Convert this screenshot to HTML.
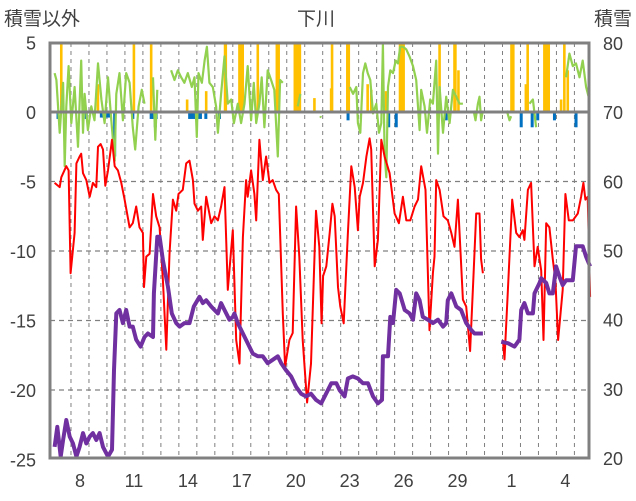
<!DOCTYPE html>
<html><head><meta charset="utf-8"><style>
body{margin:0;background:#fff;}
svg{display:block;font-family:"Liberation Sans","Noto Sans CJK JP",sans-serif;}
</style></head><body>
<svg id="chart" width="636" height="501" viewBox="0 0 636 501">
<text x="4" y="25" font-size="19" fill="#404040">積雪以外</text>
<text x="316" y="25" font-size="19" fill="#404040" text-anchor="middle">下川</text>
<text x="632" y="25" font-size="19" fill="#404040" text-anchor="end">積雪</text>
<g id="grid"></g><g id="bars"></g><g id="lines"></g><g id="frame"></g><g id="labels"></g>
</svg>
<script>
const leftTicks=[5,0,-5,-10,-15,-20,-25];
const rightTicks=[80,70,60,50,40,30,20];
const dayLabels=[7,8,9,10,11,12,13,14,15,16,17,18,19,20,21,22,23,24,25,26,27,28,29,30,31,1,2,3,4,5];
const shownLabels=["8","11","14","17","20","23","26","29","1","4"];
const redT=[0.09,0.37,0.46,0.74,0.87,0.98,1.2,1.3,1.48,1.57,1.67,1.85,2.04,2.22,2.41,2.5,2.65,2.78,2.91,3.06,3.28,3.43,3.61,3.8,3.98,4.26,4.44,4.63,4.81,5.0,5.06,5.19,5.37,5.56,5.74,5.93,6.11,6.3,6.48,6.67,6.85,6.98,7.22,7.41,7.59,7.78,7.87,8.06,8.24,8.33,8.52,8.8,8.98,9.17,9.35,9.54,9.72,10.0,10.19,10.37,10.56,10.74,10.83,11.02,11.2,11.3,11.48,11.67,11.85,12.04,12.22,12.41,12.56,12.78,12.91,13.15,13.33,13.52,13.7,13.89,14.13,14.35,14.63,14.81,14.94,15.02,15.2,15.39,15.54,15.67,15.85,15.98,16.17,16.4,16.59,16.78,16.96,17.06,17.24,17.43,17.61,17.7,17.89,18.07,18.26,18.44,18.72,19.0,19.24,19.46,19.65,19.87,20.11,20.3,20.48,20.72,20.94,21.13,21.22,21.31,21.5,21.72,21.96,22.15,22.33,22.52,22.8,22.98,23.2,23.39,23.54,23.72,23.81,23.91,24.5,25.02,25.11,25.3,25.54,25.76,25.94,26.13,26.22,26.41,26.59,26.78,26.96,27.15,27.28,27.43,27.61,27.8,27.94,28.09,28.35,28.5,28.69,28.91,29.19,29.37,29.5,29.61,29.74,29.87];
const redV=[-5.1,-5.4,-4.7,-3.9,-4.2,-11.6,-8.7,-3.7,-3.2,-3.0,-4.4,-4.9,-6.1,-5.1,-5.4,-2.5,-2.3,-2.7,-5.3,-4.2,-2.0,-3.9,-4.2,-5.1,-6.3,-8.3,-8.0,-6.8,-8.3,-8.7,-12.6,-10.4,-10.2,-5.9,-7.5,-8.3,-12.1,-17.1,-10.2,-6.3,-7.1,-5.9,-5.6,-3.7,-3.5,-4.9,-6.6,-7.1,-6.8,-9.2,-6.1,-8.0,-7.5,-7.8,-6.8,-5.4,-12.8,-8.5,-16.4,-18.1,-9.0,-4.9,-6.1,-4.2,-5.9,-7.8,-2.0,-4.9,-3.2,-5.1,-4.9,-5.6,-5.9,-14.5,-18.3,-16.4,-15.9,-6.8,-10.4,-16.4,-20.9,-18.1,-7.1,-9.7,-15.2,-11.8,-11.1,-8.7,-6.6,-7.5,-12.6,-14.0,-15.2,-8.7,-3.9,-5.4,-8.5,-6.1,-5.1,-3.2,-1.9,-2.7,-11.1,-9.2,-2.0,-3.2,-4.4,-7.3,-8.0,-6.1,-7.8,-7.8,-6.8,-6.3,-3.9,-5.6,-15.7,-11.6,-10.4,-4.9,-5.6,-7.5,-7.8,-8.7,-9.7,-6.3,-13.5,-14.0,-17.2,-11.6,-7.3,-7.3,-10.6,-11.6,null,-16.4,-17.8,-12.8,-6.3,-8.7,-9.0,-8.5,-9.2,-5.6,-5.1,-11.1,-9.7,-11.4,-16.4,-8.0,-8.3,-10.6,-12.1,-16.4,-12.8,-5.9,-7.8,-7.8,-7.3,-6.1,-5.1,-6.3,-6.1,-13.3];
const snowT=[0.09,0.24,0.43,0.56,0.74,0.93,1.11,1.3,1.48,1.67,1.85,2.04,2.22,2.41,2.59,2.78,3.06,3.28,3.39,3.52,3.7,3.89,4.07,4.26,4.44,4.63,4.87,5.09,5.28,5.56,5.61,5.8,5.93,6.11,6.39,6.61,6.85,7.04,7.31,7.59,7.83,8.15,8.33,8.52,8.8,8.98,9.17,9.35,9.54,9.81,10.0,10.09,10.28,10.56,10.83,11.11,11.39,11.67,11.94,12.22,12.5,12.69,12.96,13.24,13.52,13.8,14.07,14.35,14.63,14.91,15.11,15.48,15.76,15.94,16.22,16.4,16.67,16.96,17.24,17.52,17.8,18.07,18.3,18.35,18.63,18.76,18.91,19.09,19.28,19.56,19.83,20.02,20.2,20.39,20.57,20.85,21.13,21.41,21.69,21.87,21.96,22.15,22.43,22.7,22.98,23.26,23.44,23.91,24.5,24.93,25.3,25.67,25.94,26.04,26.22,26.41,26.69,26.78,27.06,27.15,27.43,27.61,27.8,27.98,28.17,28.35,28.54,28.91,29.09,29.46,29.65,29.87];
const snowV=[21.6,24.5,20.2,22.6,25.5,23.1,22.1,20.2,21.6,23.6,22.1,23.1,23.6,22.6,23.6,21.6,20.2,21.2,32.7,40.9,41.4,39.5,41.4,39.0,39.0,37.1,36.1,37.5,38.0,37.5,43.8,52.0,52.0,48.6,44.8,40.9,39.5,39.0,39.5,39.5,41.9,43.3,42.4,42.8,41.9,41.4,40.9,42.4,41.4,40.0,40.4,40.9,39.5,38.0,36.6,35.1,34.7,34.7,33.7,34.2,34.7,33.7,32.7,31.8,30.3,29.3,28.9,29.3,28.4,27.9,28.9,30.8,30.8,29.8,28.9,31.5,31.8,31.5,30.8,30.8,28.9,27.9,28.4,34.7,34.7,40.4,39.5,44.3,43.8,41.4,40.9,40.0,43.8,42.8,40.4,40.0,39.5,40.0,39.0,39.5,42.8,43.8,41.9,41.4,39.5,38.5,38.0,38.0,null,36.8,36.6,36.1,37.1,41.4,42.4,40.9,40.9,43.8,45.3,46.0,45.3,43.8,43.8,47.7,46.2,45.0,45.7,45.7,50.6,50.6,49.1,47.7];
const greenT=[0.09,0.19,0.37,0.56,0.65,0.74,0.87,1.02,1.2,1.39,1.57,1.67,1.76,1.94,2.13,2.31,2.5,2.69,2.87,3.06,3.24,3.43,3.52,3.7,3.89,4.07,4.26,4.44,4.57,4.76,4.94,5.09,5.3,5.56,5.69,5.8,6.2,6.57,6.76,6.94,7.13,7.31,7.5,7.72,7.87,8.0,8.09,8.28,8.43,8.56,8.7,8.89,9.07,9.17,9.35,9.54,9.72,9.91,10.06,10.28,10.46,10.65,10.83,11.02,11.17,11.3,11.48,11.61,11.76,11.94,12.13,12.31,12.5,12.63,12.78,13.2,13.61,13.76,14.3,14.86,14.91,16.0,16.5,16.69,16.87,16.96,17.09,17.24,17.37,17.5,17.65,17.8,17.98,18.13,18.26,18.35,18.44,18.54,18.63,18.76,18.91,19.06,19.19,19.31,19.46,19.65,19.83,20.02,20.2,20.39,20.48,20.67,20.8,20.98,21.13,21.31,21.41,21.5,21.69,21.87,22.06,22.24,22.43,22.61,22.8,23.1,23.39,23.5,23.63,23.72,23.81,23.91,24.5,25.24,25.39,25.48,26.0,26.5,26.69,26.87,27.5,28.54,28.72,28.91,29.09,29.28,29.46,29.65,29.83];
const greenV=[2.8,2.3,-1.5,2.1,-3.9,0.4,3.3,-0.8,1.8,-2.5,3.7,-1.5,1.3,-1.3,0.4,-0.6,3.5,0.9,-0.8,2.5,-0.6,-3.5,1.3,2.8,-0.6,2.8,2.1,-1.1,-2.7,0.4,1.6,0.6,null,2.5,-2.0,1.6,null,3.0,2.3,3.0,2.5,2.1,2.8,1.8,2.5,-1.8,2.8,2.1,3.7,4.7,2.1,1.8,0.4,-1.5,1.3,4.0,0.6,0.9,-0.8,0.6,-0.8,0.6,3.3,-0.6,2.1,-0.8,0.6,2.5,-1.1,3.0,2.3,1.6,-3.2,2.3,2.1,null,0.4,1.3,null,-0.3,-0.4,null,1.8,1.3,1.8,-0.8,-1.5,2.8,3.5,2.8,2.3,-0.1,0.6,-1.5,-0.8,4.9,-3.0,-4.7,1.8,3.0,2.8,3.7,3.5,4.7,4.7,4.5,4.0,3.3,2.3,-1.3,1.6,0.4,-1.5,0.9,0.6,3.7,-3.0,1.8,-1.5,1.1,-0.8,1.6,1.1,0.6,0.6,null,0.1,-0.6,0.6,1.1,-0.6,0.1,null,0.1,-0.6,-0.3,null,0.6,0.9,-1.1,null,2.5,4.2,3.3,3.5,2.5,3.7,1.8,0.9];
const precipT=[0.46,2.5,4.5,5.46,7.46,8.52,9.57,9.61,10.37,10.43,10.49,10.55,11.39,12.45,12.5,12.55,13.45,13.52,13.59,13.66,13.73,14.54,15.52,15.47,16.37,16.41,16.45,17.5,17.7,18.52,19.3,19.35,19.4,19.45,19.5,21.5,22.33,22.38,22.55,25.5,25.55,25.6,26.4,26.3,27.33,27.38,27.43,27.57,28.26,28.44,28.63];
const precipV=[5,2,5,5,0.9,1.5,5,5,5,5,5,5,5,5,5,5,5,5,5,5,5,1,5,1.7,5,5,5,2,1.6,1.5,5,5,5,5,5,5,5,5,3,5,5,5,5,2,5,5,5,5,0.9,5,3];
const meltT=[0.28,1.85,2.69,2.78,2.87,3.0,3.13,3.43,4.44,5.46,5.6,5.69,5.74,7.6,7.75,7.9,8.05,8.2,8.5,9.26,16.41,18.67,19.09,21.87,26.04,26.65,26.96,27.89,29.09];
const meltV=[-0.5,-0.5,-0.4,-0.4,-0.4,-0.4,-0.4,-3.2,-0.5,-0.5,-0.5,-1.1,-0.5,-0.5,-0.5,-0.5,-0.5,-0.5,-0.5,-0.5,-0.6,-1.1,-1.1,-0.6,-1.1,-1.1,-0.6,-0.6,-1.1];

const X0=53,DX=17.98,L=50,R=589,T=43,B=458;
const xS=t=>X0+t*DX;
const yL=v=>112-v*13.9;
const yR=s=>458-(s-20)*6.917;
const NS="http://www.w3.org/2000/svg";
function mk(tag,parent,attrs){const e=document.createElementNS(NS,tag);for(const k in attrs)e.setAttribute(k,attrs[k]);parent.appendChild(e);return e;}
const grid=document.getElementById('grid'),bars=document.getElementById('bars'),lines=document.getElementById('lines'),frame=document.getElementById('frame'),labels=document.getElementById('labels');

leftTicks.forEach(v=>{
  if(v!==5&&v!==0&&v!==-25){
    const g=mk('line',grid,{x1:L,x2:R,y1:yL(v),y2:yL(v),stroke:'#808080','stroke-width':1.2,'stroke-dasharray':'5,4'});
    
    
  }
  const t=mk('text',labels,{x:36,y:yL(v)+7,'font-size':18,fill:'#404040','text-anchor':'end'});
  t.textContent=String(v);
  
  
});
rightTicks.forEach(s=>{
  const t=mk('text',labels,{x:603,y:yR(s)+7,'font-size':18,fill:'#404040'});
  t.textContent=String(s);
  
  
});
for(let i=1;i<dayLabels.length;i++){
  const g=mk('line',grid,{x1:xS(i),x2:xS(i),y1:T,y2:B,stroke:'#808080','stroke-width':1,'stroke-dasharray':'4,4'});
  
  
}
dayLabels.forEach((d,i)=>{
  if(shownLabels.indexOf(String(d))>=0 && !(d===4 && i<20) && !(d===1 && i<20) && !(d===8 && i>20)){
    const t=mk('text',labels,{x:xS(i+0.5),y:487,'font-size':18,fill:'#404040','text-anchor':'middle'});
    t.textContent=String(d);
    
    
  }
});
precipT.forEach((t,i)=>{
  const y=yL(precipV[i]);
  const r=mk('rect',bars,{x:xS(t)-1.3,y:Math.max(T,y),width:2.6,height:yL(0)-Math.max(T,y),fill:'#FFC000'});
  
  
});
meltT.forEach((t,i)=>{
  const r=mk('rect',bars,{x:xS(t)-1.5,y:yL(0),width:3,height:yL(meltV[i])-yL(0),fill:'#0070C0'});
  
  
});
function path(ts,vs,ys){let d='',pen=false;ts.forEach((t,i)=>{const v=vs[i];if(v===null){pen=false;return;}d+=(pen?'L':'M')+xS(t).toFixed(1)+','+ys(v).toFixed(1);pen=true;});return d;}
const gp=mk('path',lines,{d:path(greenT,greenV,yL),fill:'none',stroke:'#92D050','stroke-width':2.2,'stroke-linejoin':'round'});


const rp=mk('path',lines,{d:path(redT,redV,yL),fill:'none',stroke:'#FF0000','stroke-width':2,'stroke-linejoin':'round'});


const pp=mk('path',lines,{d:path(snowT,snowV,yR),fill:'none',stroke:'#7030A0','stroke-width':4,'stroke-linejoin':'round'});


const z=mk('line',frame,{x1:L,x2:R,y1:yL(0),y2:yL(0),stroke:'#808080','stroke-width':3});


const f=mk('rect',frame,{x:L,y:T,width:R-L,height:B-T,fill:'none',stroke:'#808080','stroke-width':3});


</script>
</body></html>
